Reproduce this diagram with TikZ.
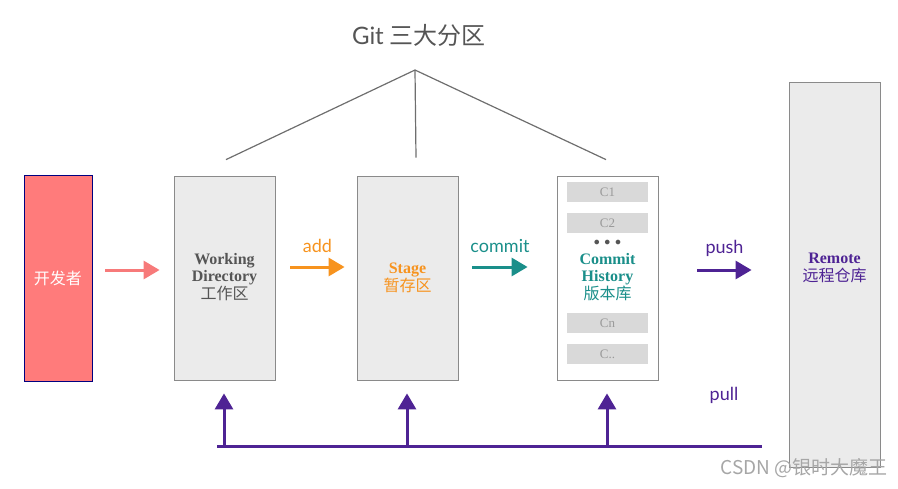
\documentclass[tikz,border=0pt]{standalone}
\usepackage{fontspec}
\setmainfont{Liberation Serif}
\setsansfont{Lato}
\newfontfamily\cjk{Noto Sans CJK SC}
\newfontfamily\latosans{Lato}
\usetikzlibrary{arrows.meta}
\definecolor{devpink}{HTML}{FF7B7B}
\definecolor{arrpink}{HTML}{F77A7A}
\definecolor{gorange}{HTML}{F7931E}
\definecolor{gteal}{HTML}{1A8F8A}
\definecolor{gpurple}{HTML}{4E2394}
\definecolor{boxfill}{HTML}{EBEBEB}
\definecolor{boxline}{HTML}{8A8A8A}
\definecolor{treeline}{HTML}{6E6E6E}
\definecolor{cfill}{HTML}{D9D9D9}
\definecolor{ctext}{HTML}{9A9A9A}
\definecolor{darktext}{HTML}{555555}
\tikzset{
  area/.style={draw=boxline, line width=0.8pt, fill=boxfill, minimum width=101pt, minimum height=204pt, inner sep=0pt},
  crect/.style={fill=cfill, minimum width=81pt, minimum height=20pt, inner sep=0pt, text=ctext, font=\rmfamily\fontsize{13}{14}\selectfont},
  flow/.style={line width=3pt, -{Triangle[length=16pt, width=18pt]}},
  lbl/.style={font=\latosans\fontsize{18}{20}\selectfont},
  boxtxt/.style={align=center, font=\fontsize{16}{18}\selectfont},
  tree/.style={draw=treeline, line width=1.2pt}
}
\begin{document}
\begin{tikzpicture}[x=1pt,y=-1pt]
\path[use as bounding box] (0,0) rectangle (898,488);
% title
\node[text=darktext, font=\latosans\fontsize{24}{26}\selectfont] (title) at (419,35) {Git {\cjk 三大分区}};
% boxes
\node[draw=blue!50!black, line width=0.8pt, fill=devpink, minimum width=68pt, minimum height=206pt, inner sep=0pt, text=white, font=\cjk\fontsize{16}{18}\selectfont] (dev) at (58,278) {开发者};
\node[area] (wd) at (224.5,278) {};
\node[boxtxt, text=darktext] (wdt) at (224.5,277) {\textbf{Working}\\[-1pt]\textbf{Directory}\\[0pt]{\cjk\fontsize{16}{18}\selectfont 工作区}};
\node[area] (st) at (407.5,278) {};
\node[boxtxt, text=gorange] (stt) at (407.5,278) {\textbf{Stage}\\[0pt]{\cjk\fontsize{16}{18}\selectfont 暂存区}};
\node[area, fill=white] (cm) at (607.5,278) {};
\node[crect] (c1) at (607.5,192) {C1};
\node[crect] (c2) at (607.5,223) {C2};
\node[text=darktext, font=\fontsize{12}{12}\selectfont] (dots) at (607.5,243) {$\bullet\,\bullet\,\bullet$};
\node[boxtxt, text=gteal] (cmt) at (607.5,277) {\textbf{Commit}\\[-1pt]\textbf{History}\\[0pt]{\cjk\fontsize{16}{18}\selectfont 版本库}};
\node[crect] (cn) at (607.5,323) {Cn};
\node[crect] (cx) at (607.5,354) {C..};
\node[draw=boxline, line width=0.8pt, fill=boxfill, minimum width=91pt, minimum height=385pt, inner sep=0pt] (rm) at (834.5,274.5) {};
\node[boxtxt, text=gpurple] (rmt) at (834.5,268) {\textbf{Remote}\\[0pt]{\cjk\fontsize{16}{18}\selectfont 远程仓库}};
% tree lines
\coordinate (apex) at (415,70);
\draw[tree] (apex) -- ([yshift=16pt,xshift=1.5pt]wd.north);
\draw[tree] (apex) -- ([yshift=18pt,xshift=8.5pt]st.north);
\draw[tree] (apex) -- ([yshift=16pt,xshift=-1.5pt]cm.north);
% flows
\draw[flow, arrpink] ([yshift=8pt,xshift=13pt]dev.east) -- ([yshift=8pt,xshift=-14pt]wd.west);
\draw[flow, gorange] ([yshift=11pt,xshift=15pt]wd.east) -- ([yshift=11pt,xshift=-12pt]st.west) node[midway, above=10pt, lbl, text=gorange] {add};
\draw[flow, gteal] ([yshift=11pt,xshift=14pt]st.east) -- ([yshift=11pt,xshift=-29pt]cm.west) node[midway, above=10pt, lbl, text=gteal] {commit};
\coordinate (pushA) at ([yshift=8pt,xshift=39pt]cm.east);
\coordinate (pushT) at ([xshift=-37pt]rm.west);
\draw[flow, gpurple] (pushA) -- (pushA -| pushT) node[midway, above=9pt, lbl, text=gpurple] {push};
% pull
\coordinate (pl) at (217,446);
\coordinate (pr) at (762,446);
\draw[gpurple, line width=3pt] (pl) -- (pr);
\node[lbl, text=gpurple] (pull) at (724,395) {pull};
\draw[flow, gpurple] (224,446) -- ([yshift=-13pt]wd.south -| 224,0);
\draw[flow, gpurple] (407,446) -- ([yshift=-13pt]st.south -| 407,0);
\draw[flow, gpurple] (607,446) -- ([yshift=-13pt]cm.south -| 607,0);
% watermark
\node[text=gray!70, font=\cjk\fontsize{19}{21}\selectfont, anchor=east] (wm) at (891,468) {CSDN @银时大魔王};
\end{tikzpicture}
\end{document}
